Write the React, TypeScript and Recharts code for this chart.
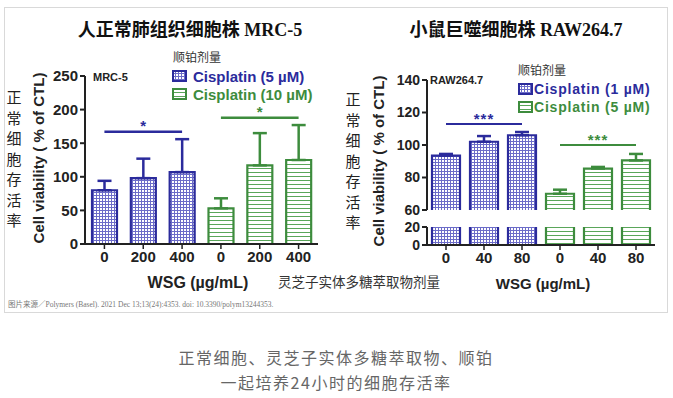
import React from "react";
import { BarChart, Bar, XAxis, YAxis, ErrorBar, ReferenceLine } from "recharts";

// series colours
const BLUE = "#2b2b9c";
const GREEN = "#3d8c3d";
const SANS = '"Liberation Sans", Arial, sans-serif';
const CJK = '"Liberation Serif", "Noto Sans CJK SC", serif';

// MRC-5 panel
const MRC_DOSES = ["0", "200", "400"];
const MRC_CIS5 = [80, 98, 107];
const MRC_CIS5_SD = [14, 29, 49];
const MRC_CIS10 = [53, 117, 125];
const MRC_CIS10_SD = [15, 48, 52];
const MRC_TICKS = [0, 50, 100, 150, 200, 250];
const MRC_SIG = [
  { from: "a0", to: "a2", y: 167, mark: "*", group: "a" },
  { from: "b0", to: "b2", y: 188, mark: "*", group: "b" },
];

// RAW264.7 panel (broken axis)
const RAW_DOSES = ["0", "40", "80"];
const RAW_CIS1 = [93.5, 102, 106];
const RAW_CIS1_SD = [1, 3.5, 2];
const RAW_CIS5 = [70, 85.5, 90.5];
const RAW_CIS5_SD = [2.5, 1, 4];
const RAW_TICKS_TOP = [60, 80, 100, 120, 140];
const RAW_TICKS_BOTTOM = [0, 20];
const RAW_SIG = [
  { from: "a0", to: "a2", y: 113, mark: "***", group: "a" },
  { from: "b0", to: "b2", y: 100, mark: "***", group: "b" },
];

const VERT_LABEL = "正常细胞存活率";
const X_LABEL_CN = "灵芝子实体多糖萃取物剂量";

function buildRows(doses: string[], aMean: number[], aSd: number[], bMean: number[], bSd: number[]) {
  const rows: any[] = [];
  doses.forEach((d, i) => rows.push({ key: "a" + i, dose: d, group: "a", value: aMean[i], errA: [0, aSd[i]] }));
  doses.forEach((d, i) => rows.push({ key: "b" + i, dose: d, group: "b", value: bMean[i], errB: [0, bSd[i]] }));
  return rows;
}

const mrcRows = buildRows(MRC_DOSES, MRC_CIS5, MRC_CIS5_SD, MRC_CIS10, MRC_CIS10_SD);
const rawRows = buildRows(RAW_DOSES, RAW_CIS1, RAW_CIS1_SD, RAW_CIS5, RAW_CIS5_SD);

function PatternBar(props: any) {
  const { x, y, width, height, payload } = props;
  if (!height || height <= 0) return null;
  const c = payload.group === "a" ? BLUE : GREEN;
  const fill = payload.group === "a" ? "url(#gridBlue)" : "url(#stripeGreen)";
  return (
    <g>
      <rect x={x} y={y} width={width} height={height} fill={fill} />
      <path d={`M${x},${y + height}V${y}H${x + width}V${y + height}`} fill="none" stroke={c} strokeWidth={2.2} />
    </g>
  );
}

const tickStyle = (size: number) => ({ fill: "#222", fontSize: size, fontWeight: 700, fontFamily: SANS });
const axisLine = { stroke: "#222", strokeWidth: 2 };

function Txt({ x, y, children, style, center }: any) {
  return (
    <div
      style={{
        position: "absolute", left: x, top: y, whiteSpace: "nowrap", lineHeight: 1,
        transform: center ? "translate(-50%, -50%)" : "translateY(-50%)",
        ...style,
      }}
    >
      {children}
    </div>
  );
}

function Icon({ x, y, group }: any) {
  const c = group === "a" ? BLUE : GREEN;
  return (
    <svg style={{ position: "absolute", left: x, top: y }} width={15} height={12}>
      <rect x={1} y={1} width={13} height={10} fill={group === "a" ? "url(#gridBlue)" : "url(#stripeGreen)"} stroke={c} strokeWidth={2} />
    </svg>
  );
}

function VerticalCn({ x, y }: any) {
  return (
    <div style={{ position: "absolute", left: x, top: y, width: 16, fontFamily: CJK, fontSize: 15, lineHeight: "20.5px", color: "#222", textAlign: "center" }}>
      {VERT_LABEL.split("").map((ch, i) => <div key={i}>{ch}</div>)}
    </div>
  );
}

function YTitle({ x, y }: any) {
  return (
    <div style={{ position: "absolute", left: x, top: y, transform: "translate(-50%, -50%) rotate(-90deg)", whiteSpace: "nowrap", fontFamily: SANS, fontWeight: 700, fontSize: 15, color: "#222" }}>
      Cell viability ( % of CTL)
    </div>
  );
}

export default function App() {
  return (
    <div style={{ position: "absolute", left: 0, top: 0, width: 673, height: 398, background: "#fff", overflow: "hidden" }}>
      <svg width={0} height={0} style={{ position: "absolute" }}>
        <defs>
          <pattern id="gridBlue" width={3} height={3} patternUnits="userSpaceOnUse">
            <rect width={3} height={3} fill="#fff" />
            <path d="M0,0.5H3M0.5,0V3" stroke="#6c6cc8" strokeWidth={1} />
          </pattern>
          <pattern id="stripeGreen" width={4} height={4} patternUnits="userSpaceOnUse">
            <rect width={4} height={4} fill="#fff" />
            <path d="M0,0.5H4" stroke="#5aa65a" strokeWidth={1} />
          </pattern>
        </defs>
      </svg>

      <div style={{ position: "absolute", left: 4, top: 7, width: 664, height: 306, border: "1px solid #d9d9d9", boxSizing: "border-box" }} />

      {/* titles */}
      <Txt x={190} y={30} center style={{ fontFamily: CJK, fontWeight: 700, fontSize: 18, color: "#111" }}>人正常肺组织细胞株 MRC-5</Txt>
      <Txt x={516} y={30} center style={{ fontFamily: CJK, fontWeight: 700, fontSize: 18, color: "#111" }}>小鼠巨噬细胞株 RAW264.7</Txt>

      {/* left chart */}
      <div style={{ position: "absolute", left: 0, top: 0 }}>
        <BarChart width={340} height={300} data={mrcRows} margin={{ top: 76, right: 22, bottom: 26, left: 0 }} barSize={25}>
          <XAxis dataKey="key" height={30} interval={0} axisLine={axisLine} tickLine={{ stroke: "#222", strokeWidth: 1.5 }} tickSize={5}
            tick={tickStyle(15)} tickFormatter={(_v: any, i: number) => mrcRows[i]?.dose} />
          <YAxis width={85} domain={[0, 250]} ticks={MRC_TICKS} interval={0} axisLine={axisLine} tickLine={{ stroke: "#222", strokeWidth: 2 }} tickSize={5}
            tick={tickStyle(15)} />
          {MRC_SIG.map((s) => (
            <ReferenceLine key={s.from} segment={[{ x: s.from, y: s.y }, { x: s.to, y: s.y }]} stroke={s.group === "a" ? BLUE : GREEN} strokeWidth={2.5}
              label={{ value: s.mark, position: "top", offset: 1, fill: s.group === "a" ? BLUE : GREEN, fontSize: 15, fontWeight: 700, fontFamily: SANS }} />
          ))}
          <Bar dataKey="value" shape={PatternBar} isAnimationActive={false}>
            <ErrorBar dataKey="errA" width={7} stroke={BLUE} strokeWidth={2.5} direction="y" />
            <ErrorBar dataKey="errB" width={7} stroke={GREEN} strokeWidth={2.5} direction="y" />
          </Bar>
        </BarChart>
      </div>

      {/* right chart, upper segment */}
      <div style={{ position: "absolute", left: 330, top: 0 }}>
        <BarChart width={343} height={222} data={rawRows} margin={{ top: 80, right: 18, bottom: 12, left: 0 }} barSize={28}>
          <XAxis dataKey="key" hide height={0} />
          <YAxis width={97} domain={[60, 140]} ticks={RAW_TICKS_TOP} interval={0} allowDataOverflow axisLine={axisLine}
            tickLine={{ stroke: "#222", strokeWidth: 2 }} tickSize={5} tick={tickStyle(14)} />
          {RAW_SIG.map((s) => (
            <ReferenceLine key={s.from} segment={[{ x: s.from, y: s.y }, { x: s.to, y: s.y }]} stroke={s.group === "a" ? BLUE : GREEN} strokeWidth={2}
              label={{ value: s.mark, position: "top", offset: 0, fill: s.group === "a" ? BLUE : GREEN, fontSize: 15, fontWeight: 700, fontFamily: SANS, letterSpacing: 1 }} />
          ))}
          <Bar dataKey="value" shape={PatternBar} isAnimationActive={false}>
            <ErrorBar dataKey="errA" width={7} stroke={BLUE} strokeWidth={2.5} direction="y" />
            <ErrorBar dataKey="errB" width={7} stroke={GREEN} strokeWidth={2.5} direction="y" />
          </Bar>
        </BarChart>
      </div>

      {/* right chart, lower segment */}
      <div style={{ position: "absolute", left: 330, top: 215 }}>
        <BarChart width={343} height={85} data={rawRows} margin={{ top: 12, right: 18, bottom: 25, left: 0 }} barSize={28}>
          <XAxis dataKey="key" height={30} interval={0} axisLine={axisLine} tickLine={{ stroke: "#222", strokeWidth: 1.5 }} tickSize={5}
            tick={tickStyle(15)} tickFormatter={(_v: any, i: number) => rawRows[i]?.dose} />
          <YAxis width={97} domain={[0, 20]} ticks={RAW_TICKS_BOTTOM} interval={0} allowDataOverflow axisLine={axisLine}
            tickLine={{ stroke: "#222", strokeWidth: 2 }} tickSize={5} tick={tickStyle(14)} />
          <Bar dataKey="value" shape={PatternBar} isAnimationActive={false} />
        </BarChart>
      </div>

      {/* axis titles */}
      <VerticalCn x={6} y={88} />
      <VerticalCn x={345} y={90} />
      <YTitle x={38} y={158} />
      <YTitle x={378} y={161} />
      <Txt x={198} y={283} center style={{ fontFamily: SANS, fontWeight: 700, fontSize: 16, color: "#222" }}>WSG (µg/mL)</Txt>
      <Txt x={543} y={283} center style={{ fontFamily: SANS, fontWeight: 700, fontSize: 15, color: "#222" }}>WSG (µg/mL)</Txt>
      <Txt x={278} y={283} style={{ fontFamily: CJK, fontSize: 13.5, color: "#333" }}>{X_LABEL_CN}</Txt>

      {/* legends */}
      <Txt x={93} y={77} style={{ fontFamily: SANS, fontWeight: 700, fontSize: 11, color: "#222" }}>MRC-5</Txt>
      <Txt x={173} y={58} style={{ fontFamily: CJK, fontSize: 12, color: "#333" }}>顺铂剂量</Txt>
      <Icon x={172} y={70} group="a" />
      <Txt x={193} y={76} style={{ fontFamily: SANS, fontWeight: 700, fontSize: 15, color: BLUE }}>Cisplatin (5 µM)</Txt>
      <Icon x={172} y={88} group="b" />
      <Txt x={193} y={94} style={{ fontFamily: SANS, fontWeight: 700, fontSize: 15, color: GREEN }}>Cisplatin (10 µM)</Txt>

      <Txt x={430} y={80} style={{ fontFamily: SANS, fontWeight: 700, fontSize: 11, color: "#222" }}>RAW264.7</Txt>
      <Txt x={518} y={71} style={{ fontFamily: CJK, fontSize: 12, color: "#333" }}>顺铂剂量</Txt>
      <Icon x={518} y={83} group="a" />
      <Txt x={534} y={89} style={{ fontFamily: SANS, fontWeight: 700, fontSize: 14, letterSpacing: 0.8, color: BLUE }}>Cisplatin (1 µM)</Txt>
      <Icon x={518} y={101} group="b" />
      <Txt x={534} y={107} style={{ fontFamily: SANS, fontWeight: 700, fontSize: 14, letterSpacing: 0.8, color: GREEN }}>Cisplatin (5 µM)</Txt>

      {/* source + caption */}
      <Txt x={8} y={305} style={{ fontFamily: CJK, fontSize: 7.5, color: "#777" }}>
        图片来源／Polymers (Basel). 2021 Dec 13;13(24):4353. doi: 10.3390/polym13244353.
      </Txt>
      <Txt x={336} y={357} center style={{ fontFamily: '"Noto Sans CJK SC", sans-serif', fontSize: 16, letterSpacing: 1.5, color: "#666" }}>
        正常细胞、灵芝子实体多糖萃取物、顺铂
      </Txt>
      <Txt x={336} y={382} center style={{ fontFamily: '"Noto Sans CJK SC", sans-serif', fontSize: 16, letterSpacing: 1.5, color: "#666" }}>
        一起培养24小时的细胞存活率
      </Txt>
    </div>
  );
}
